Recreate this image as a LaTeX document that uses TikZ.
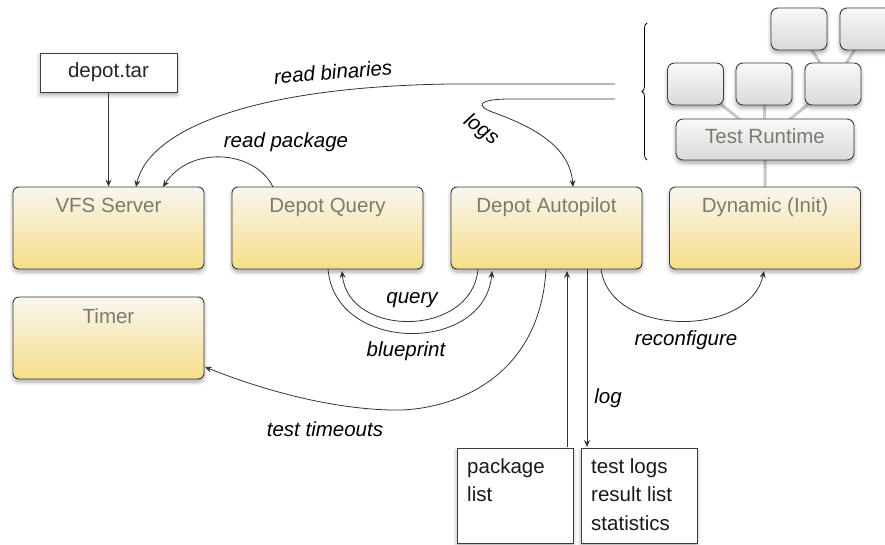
\documentclass[tikz,border=0pt]{standalone}
\usepackage{fontspec}
\setmainfont{Liberation Sans}
\usetikzlibrary{arrows.meta,shadows.blur,decorations.pathreplacing}
\definecolor{ybot}{HTML}{F6DE88}
\definecolor{ytop}{HTML}{F8F6EF}
\definecolor{gtop}{HTML}{F9F9F9}
\definecolor{gbot}{HTML}{D9D9D9}
\definecolor{edge}{HTML}{3C3C3C}
\definecolor{titlec}{HTML}{7D7B70}
\definecolor{wire}{HTML}{333333}
\definecolor{tree}{HTML}{C9C9C9}
\tikzset{
  sh/.style={blur shadow={shadow xshift=0pt, shadow yshift=-3pt, shadow blur steps=5, shadow blur radius=4pt, shadow opacity=35}},
  ybox/.style={draw=edge, line width=0.9pt, rounded corners=6pt, top color=ytop, bottom color=ybot, minimum width=191pt, minimum height=82pt, inner sep=0pt, sh},
  gbox/.style={draw=edge, line width=0.9pt, rounded corners=7pt, top color=gtop, bottom color=gbot, inner sep=0pt, sh},
  small/.style={gbox, minimum width=56pt, minimum height=42pt},
  sqbox/.style={draw=edge, line width=0.8pt, fill=white, inner sep=0pt, sh},
  title/.style={text=titlec, anchor=base, inner sep=0pt, font=\fontsize{20.5}{24}\selectfont},
  lbl/.style={font=\fontsize{20.5}{24}\selectfont\itshape, text=black, inner sep=0pt},
  txt/.style={font=\fontsize{20.5}{28.5}\selectfont, text=black!90, inner sep=0pt, align=left},
  wireln/.style={draw=wire, line width=0.8pt},
  arr/.style={wireln, -{Stealth[length=7pt, width=6pt, inset=2.5pt]}},
  treeln/.style={draw=tree, line width=3pt}
}
\begin{document}
\begin{tikzpicture}[x=1pt, y=-1pt]
\useasboundingbox (0,0) rectangle (885,545);

% tree of test runtime (lines behind)
\coordinate (trc) at (765,139.5);
\coordinate (s1c) at (695.5,84);
\coordinate (s2c) at (764,84);
\coordinate (s3c) at (833,84);
\coordinate (t1c) at (799,29);
\coordinate (t2c) at (868,29);
\draw[treeln] (trc) -- (s1c) (trc) -- (s2c) (trc) -- (s3c) (s3c) -- (t1c) (s3c) -- (t2c) (trc) -- (765,228);

\node[small] (t1) at (t1c) {};
\node[small] (t2) at (t2c) {};
\node[small] (s1) at (s1c) {};
\node[small] (s2) at (s2c) {};
\node[small] (s3) at (s3c) {};
\node[gbox, minimum width=178pt, minimum height=41pt] (tr) at (trc) {};
\node[title] (trt) at (765,144) {Test Runtime};

% brace
\draw[line width=0.8pt, decorate, decoration={brace, amplitude=5pt}] (647,160) -- (647,23);

% main boxes
\node[sqbox, minimum width=137pt, minimum height=39pt, font=\fontsize{20.5}{24}\selectfont, text=black!85] (tar) at (108.5,72.5) {depot.tar};
\node[ybox] (vfs) at (108.5,228) {};
\node[title] at (108.5,213) {VFS Server};
\node[ybox] (dq) at (327.5,228) {};
\node[title] at (327.5,213) {Depot Query};
\node[ybox] (da) at (546.5,228) {};
\node[title] at (546.5,213) {Depot Autopilot};
\node[ybox] (dyn) at (765,228) {};
\node[title] at (765,213) {Dynamic (Init)};
\node[ybox] (timer) at (108.5,338) {};
\node[title] at (108.5,323) {Timer};

% bottom boxes
\node[sqbox, minimum width=116pt, minimum height=95pt] (pl) at (515,495.5) {};
\node[txt, anchor=north west] at (467,458) {package\\list};
\node[sqbox, minimum width=116pt, minimum height=95pt] (tl) at (639,495.5) {};
\node[txt, anchor=north west] at (591,458) {test logs\\result list\\statistics};

% connectors
\draw[arr] (tar.south) -- (vfs.north);

\coordinate (rbstart) at (615,84);
\draw[arr] (rbstart) -- (450,84) .. controls (245,87) and (148,132) .. (136,187);
\node[lbl, rotate=5] at (333,72) {read binaries};

\coordinate (logstart) at (615,99);
\draw[arr] (logstart) -- (510,99) .. controls (478,99) and (474,106) .. (495,113) .. controls (530,126) and (570,145) .. (573,187);
\node[lbl, rotate=-36] at (481,130) {logs};

\draw[arr] (273,187) .. controls (255,150) and (190,145) .. (163,187);
\node[lbl] at (286,142) {read package};

\draw[arr] (328,269) .. controls (335,354) and (485,354) .. (492,271);
\draw[arr] (478,269) .. controls (472,338) and (348,338) .. (342,271);
\node[lbl] at (412,300) {query};
\node[lbl] at (406,351) {blueprint};

\draw[arr] (546,269) .. controls (540,380) and (450,412) .. (390,410) .. controls (320,408) and (250,385) .. (205,367);
\node[lbl] at (325,429) {test timeouts};

\draw[arr] (567,447) -- (567,271);
\draw[arr] (587,269) -- (587,447);
\node[lbl] at (608,398) {log};

\draw[arr] (601,269) .. controls (610,338) and (750,338) .. (764,271);
\node[lbl] at (686,340) {reconfigure};
\end{tikzpicture}
\end{document}
